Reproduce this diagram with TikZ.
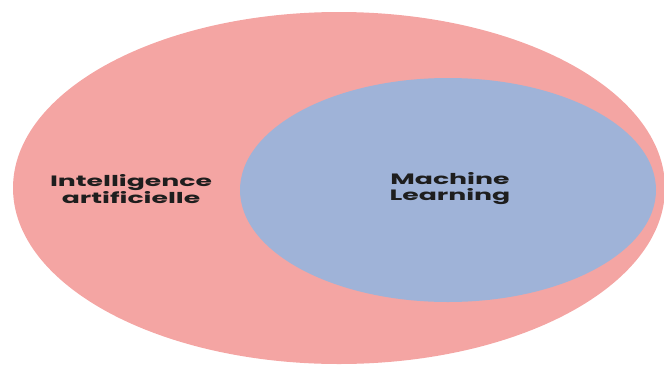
\documentclass[tikz,border=0pt]{standalone}
\usepackage{fontspec}
\setmainfont{Poppins}
\newfontfamily\labelfont[FakeStretch=1.78]{Poppins}
\usetikzlibrary{shapes.geometric}
\definecolor{aipink}{HTML}{F4A5A3}
\definecolor{mlblue}{HTML}{9FB3D8}
\definecolor{labelink}{HTML}{1E1E1E}
\tikzset{
  setshape/.style={ellipse, draw=none, inner sep=0pt},
  setlabel/.style={font=\labelfont\bfseries\fontsize{15}{16}\selectfont, text=labelink, align=center, inner sep=0pt}
}
\begin{document}
\begin{tikzpicture}[x=1pt, y=-1pt]
  \useasboundingbox (0,0) rectangle (664,365);
  % outer set: artificial intelligence
  \node[setshape, fill=aipink, minimum width=652pt, minimum height=352pt] (ai) at (339,188) {};
  % inner set: machine learning
  \node[setshape, fill=mlblue, minimum width=416pt, minimum height=224pt] (ml) at (448,190) {};
  \node[setlabel] (ailabel) at (131,189) {Intelligence\\artificielle};
  \node[setlabel] (mllabel) at (450,189) {Machine\\Learning};
\end{tikzpicture}
\end{document}
